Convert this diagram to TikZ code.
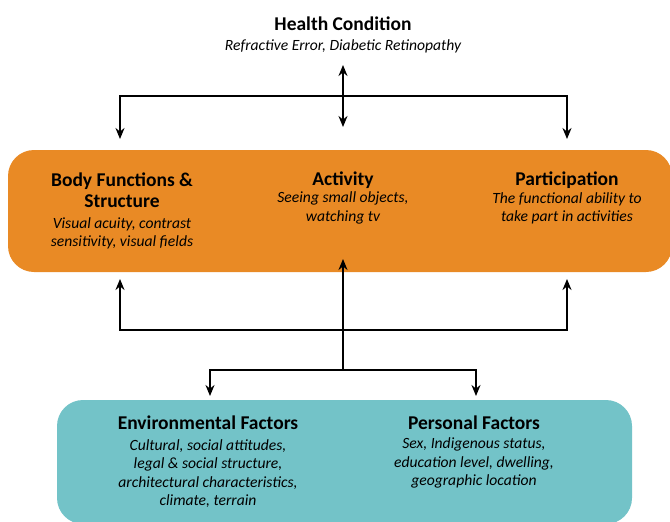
\documentclass[tikz,border=0pt]{standalone}
\usepackage{fontspec}
\setmainfont{Carlito}
\usetikzlibrary{arrows.meta}
\definecolor{icforange}{RGB}{233,138,37}
\definecolor{icfteal}{RGB}{115,195,200}
\tikzset{
  band/.style={rounded corners=26pt, inner sep=0pt},
  ttl/.style={align=center, font=\fontsize{19.5}{21.5}\selectfont\bfseries},
  sub/.style={align=center, font=\fontsize{15.6}{18.3}\selectfont\itshape},
  link/.style={line width=2.8pt, -{Stealth[length=11pt,width=9pt]}},
  dlink/.style={line width=2.8pt, {Stealth[length=11pt,width=9pt]}-{Stealth[length=11pt,width=9pt]}}
}
\begin{document}
\begin{tikzpicture}[x=1pt,y=-1pt]
        \useasboundingbox (0,0) rectangle (670,522);
        % 健康状態
        \node[ttl] (hc) at (343,24) {Health Condition};
        \node[sub] (hcsub) at (343,46) {Refractive Error, Diabetic Retinopathy};
        % 生活機能の帯
        \node[band, fill=icforange, minimum width=664pt, minimum height=122pt] (func) at (340,211) {};
        \node[ttl] (bf) at (122,190) {Body Functions \&\\Structure};
        \node[sub] (bfsub) at (122,233) {Visual acuity, contrast\\sensitivity, visual fields};
        \node[ttl] (ac) at (343,180) {Activity};
        \node[sub] (acsub) at (343,208) {Seeing small objects,\\watching tv};
        \node[ttl] (pa) at (567,180) {Participation};
        \node[sub] (pasub) at (567,208) {The functional ability to\\take part in activities};
        % 背景因子の帯
        \node[band, fill=icfteal, minimum width=575pt, minimum height=124pt] (ctx) at (344.5,462) {};
        \node[ttl] (env) at (208,423) {Environmental Factors};
        \node[sub] (envsub) at (208,473.5) {Cultural, social attitudes,\\legal \& social structure,\\architectural characteristics,\\climate, terrain};
        \node[ttl] (per) at (474,423) {Personal Factors};
        \node[sub] (persub) at (474,463) {Sex, Indigenous status,\\education level, dwelling,\\geographic location};
        % 矢印の端点
        \coordinate (hcA) at (343,65);
        \coordinate (hcB) at (343,127);
        \coordinate (tl) at (120,96);
        \coordinate (tr) at (567,96);
        \coordinate (bfIn) at (120,139);
        \coordinate (paIn) at (567,139);
        \coordinate (bfOut) at (120,279);
        \coordinate (paOut) at (567,279);
        \coordinate (bl) at (120,330);
        \coordinate (br) at (567,330);
        \coordinate (acIn) at (343,259);
        \coordinate (bj) at (343,370);
        \coordinate (el) at (210,370);
        \coordinate (pr) at (476,370);
        \coordinate (envIn) at (210,396);
        \coordinate (perIn) at (476,396);
        % 上の矢印
        \draw[dlink] (hcA) -- (hcB);
        \draw[dlink] (bfIn) -- (tl) -- (tr) -- (paIn);
        % 下の矢印
        \draw[dlink] (bfOut) -- (bl) -- (br) -- (paOut);
        \draw[link] (bj) -- (acIn);
        \draw[dlink] (envIn) -- (el) -- (pr) -- (perIn);
      \end{tikzpicture}
\end{document}
